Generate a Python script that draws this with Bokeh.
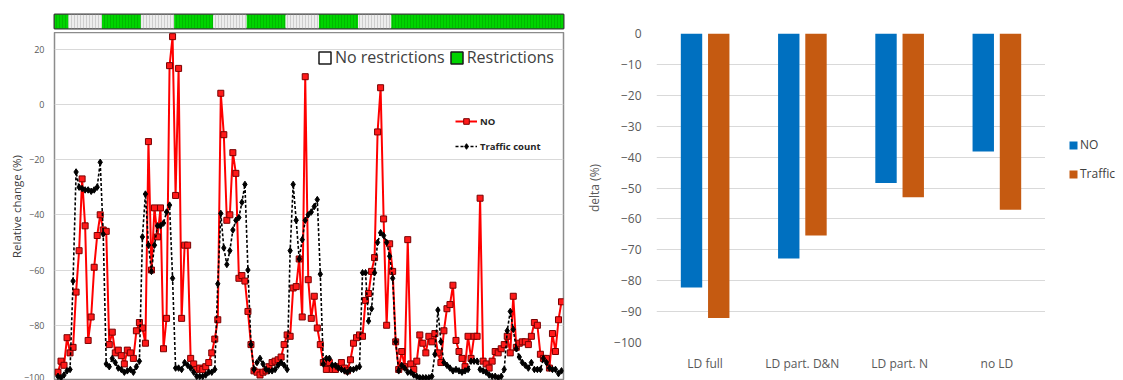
from bokeh.plotting import figure
from bokeh.layouts import row, column
from bokeh.models import Legend, LegendItem, FixedTicker, FactorRange, Range1d, ColumnDataSource
from bokeh.transform import dodge
from bokeh.embed import file_html
from bokeh.resources import INLINE

NAN = float("nan")

# ---------------- data ----------------
hours = list(range(168))
no_values = [
    -97, -93, -94.5, -84.5, -90, -88, -68, -53, -27, -44, -85.5, -77,
    -59, -47.5, -40, -45.5, -46, -87, -82.5, -90, -89, -91, -94, -89,
    -90, -92, -82, -79, -81, -86.5, -13.5, -60, -37.5, -48, -37.5, -88.5,
    -77.5, 14, 24.5, -33, 13, -77.5, -51, -51, -92, -94, -96, -95.5,
    -96, -95, -93.5, -90, -85, -78, 4, -11, -42, -40, -17.5, -25,
    -63, -62, -64, -75, -87, -96.5, -97, -98, -97, -96.5, -95, -93.5,
    -93, -92.5, -91.5, -87, -83.5, -84, -66.5, -66, -56, -77, 10, -63.5,
    -77.5, -69.5, -81, -87, -93.5, -96, -93.5, -96, -96, -95, -93.5, -95.5,
    -96.5, -92.5, -86.5, -84.5, -83.5, -84, -71, -68.5, -60.5, -55.5, -10, 6,
    -41.5, -80, -50.5, -60.5, -86, -96, -89.5, -95, -49, -94, -96, -93,
    -83.5, -86.5, -90, -84, -86, -83, -90, -93.5, -82, -74, -72.5, -65.5,
    -85.5, -89.5, -92, -95, -84, -92, -84, -84, -34, -93, -94, -95.5,
    -93, -89.5, -90, -88.5, -87, -84, -90, -69.5, -88, -86.5, -86, -86,
    -87, -84, -79, -80, -90.5, -92, -92, -95.5, -83, -89.5, -78, -71.5,
]
traffic_values = [
    -98.5, -99, -98, -96.5, -96, -64, -24.5, -30, -30.5, -31, -31, -31.5,
    -31, -30, -21, -47, -94, -95, -92, -93.5, -95.5, -96, -97, -96.5,
    -96, -97, -95, -93, -48, -32.5, -51, -60.5, -51, -44, -44, -43,
    -39, -36.5, -63, -95.5, -95.5, -96, -93.5, -94.5, -95.5, -97, -98.5, -98.5,
    -98.5, -98, -97, -97, -96, -65, -39.5, -52, -58, -53, -45.5, -42,
    -41, -35.5, -29, -60, -87, -96, -93.5, -92, -94, -96, -96.5, -96.5,
    -96, -94.5, -93.5, -94.5, -96, -53, -29, -42, -56, -49, -42, -40,
    -39, -37, -34.5, -61.5, -94, -92, -92, -94.5, -94.5, -95.5, -96, -96.5,
    -97, -96, -96, -95.5, -95, -61, -61, -78.5, -74, -61, -50, -46.5,
    -47.5, -50, -55, -63, -86, -96.5, -94.5, -95.5, -97, -97, -98, -98.5,
    -99, -99, -99, -99, -98.5, -90.5, -74.5, -86, -93.5, -94.5, -95.5, -96.5,
    -96, -96.5, -97, -96.5, -96, -93, -93, -93, -96, -96.5, -97, -98,
    -98.5, -98.5, -99, -98.5, -96, -82, -75, -81.5, -88.5, -91.5, -93.5, -94.5,
    -95.5, -93.5, -96, -96, -96, -92, -93.5, -95.5, -96, -96, -97.5, -96.5,
]
# hours without restrictions (start inclusive, end exclusive)
nores_start = [4, 28, 52, 76, 100]
nores_end = [15, 39, 63, 87, 111]

categories = ["LD full", "LD part. D&N", "LD part. N", "no LD"]
delta_no = [-82.2, -72.8, -48.4, -38.2]
delta_traffic = [-92.1, -65.4, -53.0, -57.0]

FONT = "Open Sans"


def bare_axis(a):
    a.axis_line_color = None
    a.major_tick_line_color = None
    a.minor_tick_line_color = None
    a.major_tick_out = 0
    a.major_tick_in = 0
    a.minor_tick_out = 0
    a.minor_tick_in = 0


# ---------------- left: restrictions strip ----------------
xr = Range1d(-1.16, 167.66)

strip = figure(width=583, height=32, x_range=xr, y_range=Range1d(0, 1),
               x_axis_location=None, y_axis_location=None,
               min_border_left=54, min_border_right=20, min_border_top=14, min_border_bottom=4,
               output_backend="svg", toolbar_location=None)
strip.grid.visible = False
strip.outline_line_color = "#3a3a3a"
strip.outline_line_width = 2

g_left = [xr.start] + [e - 0.5 for e in nores_end]
g_right = [s - 0.5 for s in nores_start] + [xr.end]
strip.quad(left=g_left, right=g_right, bottom=0, top=1, fill_color="#00D400",
           line_color=None, hatch_pattern="vertical_line", hatch_color="#00A800",
           hatch_scale=3, hatch_weight=0.6)
strip.quad(left=[s - 0.5 for s in nores_start], right=[e - 0.5 for e in nores_end],
           bottom=0, top=1, fill_color="#EDEDED", line_color=None,
           hatch_pattern="vertical_line", hatch_color="#B8B8B8", hatch_scale=3, hatch_weight=0.6)

# ---------------- left: time series ----------------
p = figure(width=583, height=348, x_range=xr, y_range=Range1d(-100, 26),
           x_axis_location=None,
           min_border_left=54, min_border_right=20, min_border_top=0, min_border_bottom=0,
           output_backend="svg", toolbar_location=None)
p.xgrid.visible = False
yt = FixedTicker(ticks=[-100, -80, -60, -40, -20, 0, 20])
p.yaxis.ticker = yt
p.ygrid.ticker = yt
p.ygrid.grid_line_color = "#D9D9D9"
p.outline_line_color = "#8C8C8C"
p.outline_line_width = 1.5
ax = p.yaxis[0]
bare_axis(ax)
ax.major_label_text_font = FONT
ax.major_label_text_font_size = "9px"
ax.major_label_text_color = "#595959"
ax.major_label_standoff = 10
ax.axis_label = "Relative change (%)"
ax.axis_label_text_font = FONT
ax.axis_label_text_font_size = "11.5px"
ax.axis_label_text_font_style = "normal"
ax.axis_label_text_color = "#404040"
ax.axis_label_standoff = -3

src = ColumnDataSource(dict(hour=hours, no=no_values, traffic=traffic_values))
no_line = p.line("hour", "no", source=src, line_color="#FF0000", line_width=2)
no_pts = p.scatter("hour", "no", source=src, marker="square", size=6,
                   fill_color="#FF1A1A", line_color="#7A0000", line_width=1)
tr_line = p.line("hour", "traffic", source=src, line_color="black", line_width=1.6, line_dash="3 2")
tr_pts = p.scatter("hour", "traffic", source=src, marker="diamond", size=6.5,
                   fill_color="black", line_color="black")

# legend swatches for the strip (style carriers, nothing visible on the plot)
r_free = p.quad(left=[NAN], right=[NAN], top=[NAN], bottom=[NAN],
                fill_color="white", line_color="#1a1a1a", line_width=1.5)
r_restr = p.quad(left=[NAN], right=[NAN], top=[NAN], bottom=[NAN],
                 fill_color="#00D400", line_color="#1a1a1a", line_width=1.5)
leg1 = Legend(items=[LegendItem(label="No restrictions", renderers=[r_free]),
                     LegendItem(label="Restrictions", renderers=[r_restr])],
              orientation="horizontal", location=(263, 312),
              glyph_width=15, glyph_height=15, label_height=20, label_standoff=3, spacing=4,
              padding=0, margin=0, border_line_color=None, background_fill_alpha=0,
              label_text_font=FONT, label_text_font_size="16px", label_text_color="#404040")
p.add_layout(leg1)

leg2 = Legend(items=[LegendItem(label="NO", renderers=[no_line, no_pts]),
                     LegendItem(label="Traffic count", renderers=[tr_line, tr_pts])],
              location=(401, 227),
              glyph_width=22, glyph_height=14, label_height=14, label_standoff=3, spacing=11,
              padding=0, margin=0, border_line_color=None, background_fill_alpha=0,
              label_text_font=FONT, label_text_font_size="9.5px", label_text_font_style="bold",
              label_text_color="#262626")
p.add_layout(leg2)

left = column(strip, p, spacing=0)

# ---------------- right: bar chart ----------------
p2 = figure(width=462, height=380, x_range=FactorRange(factors=categories, range_padding=0),
            y_range=Range1d(-100, 0),
            min_border_left=72, min_border_right=0, min_border_top=33, min_border_bottom=38,
            output_backend="svg", toolbar_location=None)
p2.outline_line_color = None
p2.xgrid.visible = False
yt2 = FixedTicker(ticks=list(range(-100, 1, 10)))
p2.yaxis.ticker = yt2
p2.ygrid.ticker = yt2
p2.ygrid.grid_line_color = "#D9D9D9"
p2.ygrid.grid_line_width = 1
for a in (p2.xaxis[0], p2.yaxis[0]):
    bare_axis(a)
    a.major_label_text_font = FONT
    a.major_label_text_font_size = "12px"
    a.major_label_text_color = "#595959"
p2.xaxis[0].major_label_standoff = 12
p2.yaxis[0].major_label_standoff = 15
p2.yaxis[0].axis_label = "delta (%)"
p2.yaxis[0].axis_label_text_font = FONT
p2.yaxis[0].axis_label_text_font_size = "12px"
p2.yaxis[0].axis_label_text_font_style = "normal"
p2.yaxis[0].axis_label_text_color = "#595959"
p2.yaxis[0].axis_label_standoff = 8

src2 = ColumnDataSource(dict(cat=categories, no=delta_no, traffic=delta_traffic))
p2.vbar(x=dodge("cat", -0.14, range=p2.x_range), top=0, bottom="no", width=0.22,
        source=src2, fill_color="#0070C0", line_color=None)
p2.vbar(x=dodge("cat", 0.14, range=p2.x_range), top=0, bottom="traffic", width=0.22,
        source=src2, fill_color="#C55A11", line_color=None)

# legend panel of the bar chart
lf = figure(width=78, height=380, x_range=Range1d(0, 1), y_range=Range1d(0, 1),
            x_axis_location=None, y_axis_location=None, min_border=0,
            output_backend="svg", toolbar_location=None)
lf.grid.visible = False
lf.outline_line_color = None
s_no = lf.vbar(x=[NAN], top=[NAN], width=0.1, fill_color="#0070C0", line_color=None)
s_tr = lf.vbar(x=[NAN], top=[NAN], width=0.1, fill_color="#C55A11", line_color=None)
leg3 = Legend(items=[LegendItem(label="NO", renderers=[s_no]),
                     LegendItem(label="Traffic", renderers=[s_tr])],
              location=(23, 160),
              glyph_width=10, glyph_height=10, label_height=16, label_standoff=2, spacing=12,
              padding=0, margin=0, border_line_color=None, background_fill_alpha=0,
              label_text_font=FONT, label_text_font_size="12px", label_text_color="#404040")
lf.add_layout(leg3)

layout = row(left, p2, lf, spacing=0)

open("out.html", "w").write(file_html(layout, INLINE))
